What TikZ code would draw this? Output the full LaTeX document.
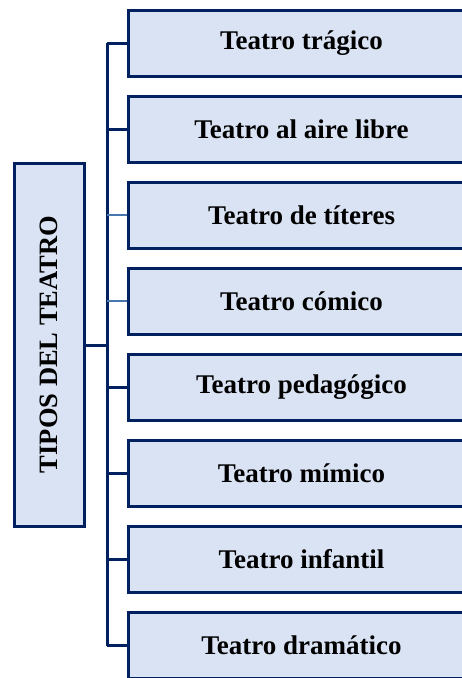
\documentclass[tikz,border=0pt]{standalone}
\usepackage{fontspec}
\setmainfont{Liberation Serif}
\definecolor{navy}{HTML}{002060}
\definecolor{paleblue}{HTML}{DAE3F3}
\definecolor{midblue}{HTML}{4A76B0}
\tikzset{
  tipo/.style={draw=navy, line width=3pt, fill=paleblue, minimum width=347pt, minimum height=66pt, font=\bfseries\fontsize{27}{31}\selectfont, inner sep=0pt},
  raiz/.style={draw=navy, line width=3pt, fill=paleblue, minimum width=70pt, minimum height=363pt, font=\bfseries\fontsize{26.5}{31}\selectfont, inner sep=0pt},
  rama/.style={draw=navy, line width=3pt},
  ramaclara/.style={draw=midblue, line width=2pt}
}
\begin{document}
\begin{tikzpicture}[x=1pt,y=-1pt]
                \useasboundingbox (0,0) rectangle (462,678);
                \clip (0,0) rectangle (462,678);
                \coordinate (bt) at (107,43);
                \coordinate (bb) at (107,645.7);
                \coordinate (bm) at (107,345);

                \node[raiz] (tipos) at (49,344.5) {\rotatebox{90}{TIPOS DEL TEATRO}};

                \node[tipo] (t1) at (301.5,43) {Teatro trágico};
                \node[tipo] (t2) at (301.5,129.1) {Teatro al aire libre};
                \node[tipo] (t3) at (301.5,215.2) {Teatro de títeres};
                \node[tipo] (t4) at (301.5,301.3) {Teatro cómico};
                \node[tipo] (t5) at (301.5,387.4) {Teatro pedagógico};
                \node[tipo] (t6) at (301.5,473.5) {Teatro mímico};
                \node[tipo] (t7) at (301.5,559.6) {Teatro infantil};
                \node[tipo] (t8) at (301.5,645.7) {Teatro dramático};

                \draw[rama] (bt) -- (bb);
                \draw[rama] (tipos.east |- bm) -- (bm);
                \draw[rama] (bt) -- (t1.west);
                \draw[rama] (107,129.1) -- (t2.west);
                \draw[ramaclara] (107,215.2) -- (t3.west);
                \draw[ramaclara] (107,301.3) -- (t4.west);
                \draw[rama] (107,387.4) -- (t5.west);
                \draw[rama] (107,473.5) -- (t6.west);
                \draw[rama] (107,559.6) -- (t7.west);
                \draw[rama] (bb) -- (t8.west);
            \end{tikzpicture}
\end{document}
